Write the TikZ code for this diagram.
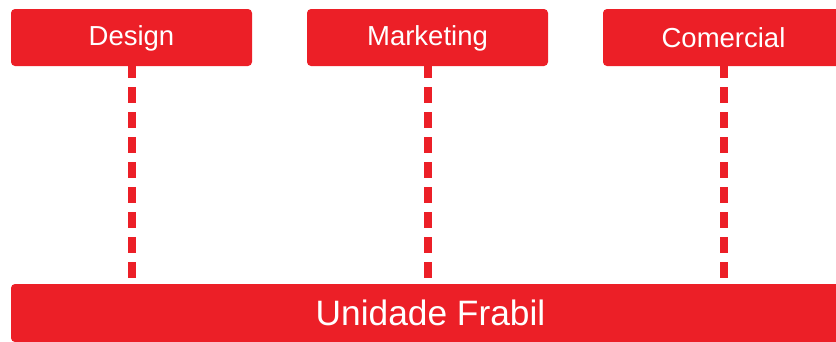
\documentclass[tikz,border=0pt]{standalone}
\usepackage{fontspec}
\setmainfont{Liberation Sans}
\definecolor{brand}{HTML}{EC1F27}
\begin{document}
\begin{tikzpicture}[x=1pt,y=-1pt,
  box/.style={fill=brand, draw=none, rounded corners=4pt, text=white, inner sep=0pt,
    font=\fontsize{27.5}{31}\selectfont, text height=19.7pt, text depth=0pt,
    minimum width=241pt, minimum height=57pt},
  bigbox/.style={box, font=\fontsize{35.3}{40}\selectfont, text height=25.3pt,
    minimum width=839pt, minimum height=58pt},
  dashline/.style={draw=brand, line width=8pt, dash pattern=on 16pt off 9pt, dash phase=4pt}]
\useasboundingbox (0,0) rectangle (836,341);
\clip (0,0) rectangle (836,341);
\node[box] (design) at (131.5,37.5) {\raisebox{2pt}{Design}};
\node[box] (marketing) at (427.5,37.5) {\raisebox{2pt}{Marketing}};
\node[box] (comercial) at (723.5,37.5) {\raisebox{-0.5pt}{Comercial}};
\node[bigbox] (bar) at (430.5,313) {Unidade Frabil};
\draw[dashline] (design.south) -- (design.south |- bar.north);
\draw[dashline] (marketing.south) -- (marketing.south |- bar.north);
\draw[dashline] (comercial.south) -- (comercial.south |- bar.north);
\end{tikzpicture}
\end{document}
